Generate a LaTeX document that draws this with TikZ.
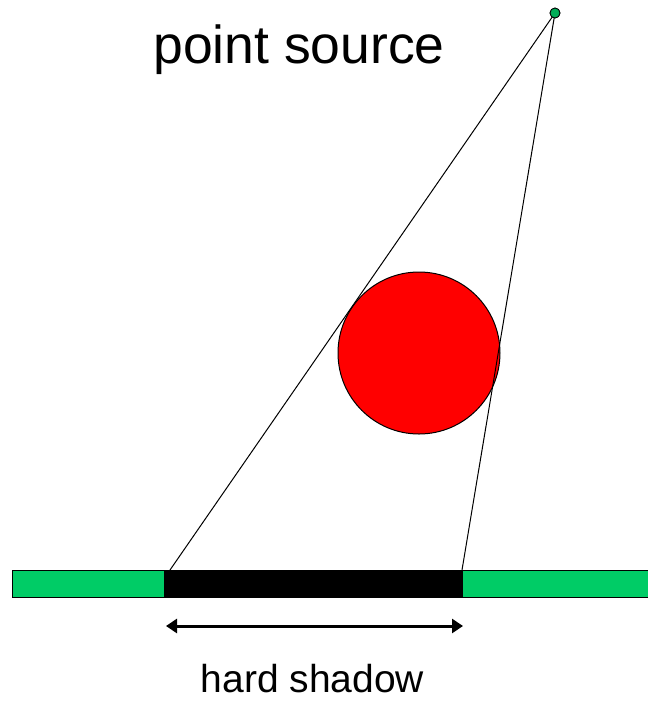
\documentclass[tikz,border=0pt]{standalone}
\usepackage{fontspec}
\setmainfont{Liberation Sans}
\usetikzlibrary{arrows.meta}
\definecolor{grn}{RGB}{0,204,102}
\definecolor{rd}{RGB}{255,0,0}
\tikzset{
  ray/.style={draw=black, line width=1pt},
  lbl/.style={inner sep=0pt, anchor=base}
}
\begin{document}
\begin{tikzpicture}[x=1pt,y=-1pt]
\useasboundingbox (0,0) rectangle (648,702);
% ground
\fill[grn, draw=black, line width=1pt] (12,570) rectangle (660,597);
\fill[black] (164,570) rectangle (463,597);
\coordinate (sl) at (170,570);
\coordinate (sr) at (462,570);
% sphere
\node[circle, fill=rd, draw=black, line width=1pt, minimum size=162pt, inner sep=0pt] (ball) at (419,353) {};
% source
\node[circle, fill=grn!85!black, draw=black, line width=0.8pt, minimum size=10pt, inner sep=0pt] (src) at (555,13) {};
\draw[ray] (src.center) -- (sl);
\draw[ray] (src.center) -- (sr);
\fill[grn!85!black, draw=black, line width=0.8pt] (555,13) circle (5);
% arrow
\coordinate (al) at (166,626);
\coordinate (ar) at (463,626);
\draw[line width=3pt, {Triangle[length=11pt,width=14pt]}-{Triangle[length=11pt,width=14pt]}] (al) -- (ar);
% labels
\node[lbl, font=\fontsize{53.5}{60}\selectfont] (ps) at (299,63) {point source};
\node[lbl, font=\fontsize{39}{46}\selectfont] (hs) at (312.5,692) {hard shadow};
\end{tikzpicture}
\end{document}
